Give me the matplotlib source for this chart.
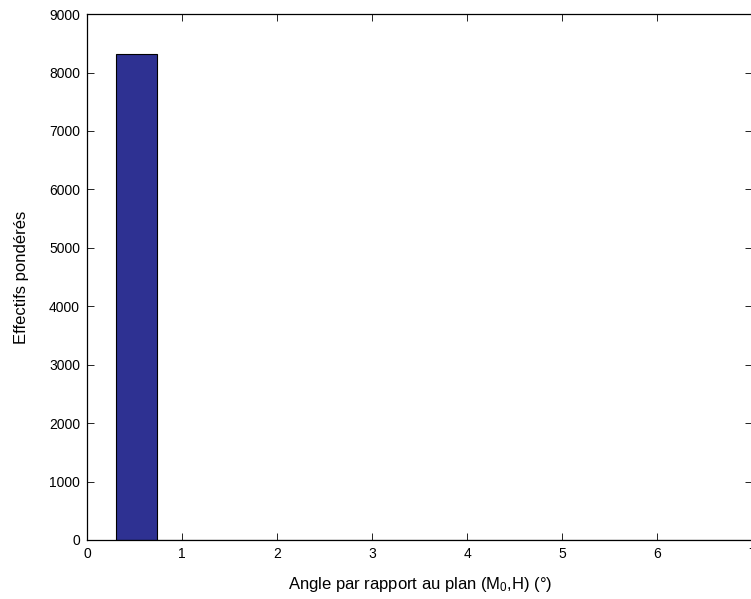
import matplotlib
matplotlib.use('Agg')
import matplotlib.pyplot as plt

plt.rcParams['font.family'] = ['Liberation Sans', 'DejaVu Sans']
plt.rcParams['mathtext.fontset'] = 'custom'
plt.rcParams['mathtext.rm'] = 'Liberation Sans'
plt.rcParams['mathtext.it'] = 'Liberation Sans'

# histogramme : bords des classes et effectifs pondérés
bin_left = [0.305, 0.735, 1.165, 1.595, 2.025, 2.455, 2.885, 3.315,
            3.745, 4.175, 4.605, 5.035, 5.465, 5.895, 6.325, 6.755]
bin_width = 0.43
counts = [8320, 4, 3, 2, 2, 1, 1, 1, 1, 1, 1, 1, 1, 1, 1, 1]

xticks = [0, 1, 2, 3, 4, 5, 6, 7]
yticks = [0, 1000, 2000, 3000, 4000, 5000, 6000, 7000, 8000, 9000]

fig = plt.figure(figsize=(7.51, 5.99), dpi=100)
ax = fig.add_axes([0.1158, 0.0985, 0.886, 0.878])

ax.bar(bin_left, counts, width=bin_width, align='edge',
       color='#2e3192', edgecolor='black', linewidth=0.8)

ax.set_xlim(0, 7)
ax.set_ylim(0, 9000)
ax.set_xticks(xticks)
ax.set_yticks(yticks)
ax.tick_params(direction='in', length=5, width=0.6, labelsize=10,
               top=True, right=True, pad=5)
for s in ax.spines.values():
    s.set_linewidth(0.9)

ax.set_xlabel(r'Angle par rapport au plan (M$_0$,H) (°)', fontsize=12, labelpad=10)
ax.set_ylabel('Effectifs pondérés', fontsize=12, labelpad=14)

fig.savefig('out.png', dpi=100)
